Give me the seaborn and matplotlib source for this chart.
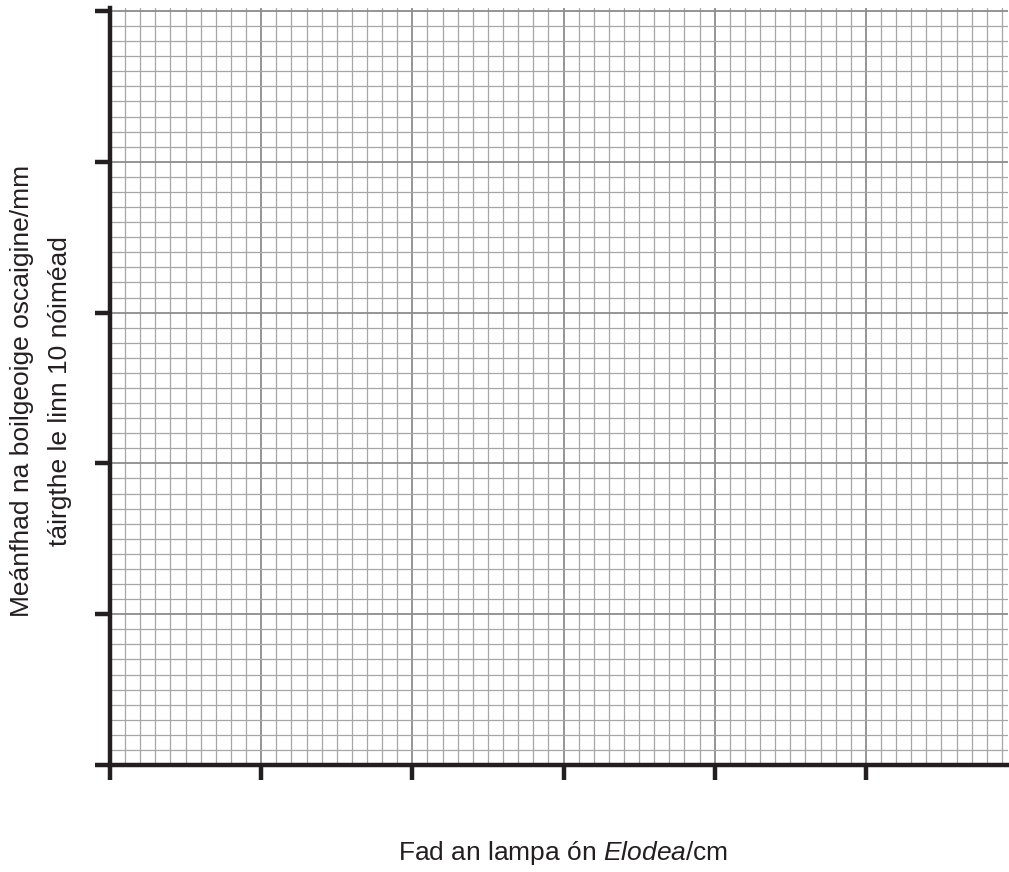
import numpy as np
import matplotlib
matplotlib.use("Agg")
import matplotlib.pyplot as plt
import seaborn as sns
from matplotlib.ticker import MultipleLocator

# axis settings (blank graph paper)
x_major = [0, 1, 2, 3, 4, 5]
y_major = [0, 1, 2, 3, 4, 5]
x_limits = (0, 5.94)
y_limits = (0, 5.02)
x_label = "Fad an lampa ón $\\it{Elodea}$/cm"
y_label = "Meánfhad na boilgeoige oscaigine/mm\ntáirgthe le linn 10 nóiméad"

sns.set_theme(style="white")
plt.rcParams['font.family'] = ['Liberation Sans', 'DejaVu Sans']
plt.rcParams['mathtext.fontset'] = 'custom'
plt.rcParams['mathtext.it'] = 'Liberation Sans:italic'
plt.rcParams['mathtext.rm'] = 'Liberation Sans'

ink = '#231f20'

fig = plt.figure(figsize=(10.09, 8.72), dpi=100)
W, H = 1009, 872
ax = fig.add_axes([110 / W, (H - 765) / H, (1008 - 110) / W, (765 - 8) / H])
ax.set_xlim(*x_limits)
ax.set_ylim(*y_limits)

ax.set_xticks(x_major)
ax.set_yticks(y_major)
ax.xaxis.set_minor_locator(MultipleLocator(0.1))
ax.yaxis.set_minor_locator(MultipleLocator(0.1))
ax.set_xticklabels([])
ax.set_yticklabels([])

ax.grid(which='minor', color='#a6a6a6', linewidth=0.9)
ax.grid(which='major', color='#8c8c8c', linewidth=1.3)
ax.set_axisbelow(True)

ax.tick_params(which='major', direction='out', length=11, width=3.2,
               color=ink, bottom=True, left=True)
ax.tick_params(which='minor', length=0)

sns.despine(ax=ax, top=True, right=True)
for side in ['left', 'bottom']:
    ax.spines[side].set_linewidth(3.2)
    ax.spines[side].set_color(ink)
    ax.spines[side].set_zorder(5)

fig.text(563 / W, 1 - 853 / H, x_label, ha='center', va='center',
         fontsize=19, color=ink)
fig.text(41 / W, 1 - 391 / H, y_label, ha='center', va='center',
         rotation=90, fontsize=19, color=ink, linespacing=1.7,
         multialignment='center')

fig.savefig("out.png", dpi=100)
